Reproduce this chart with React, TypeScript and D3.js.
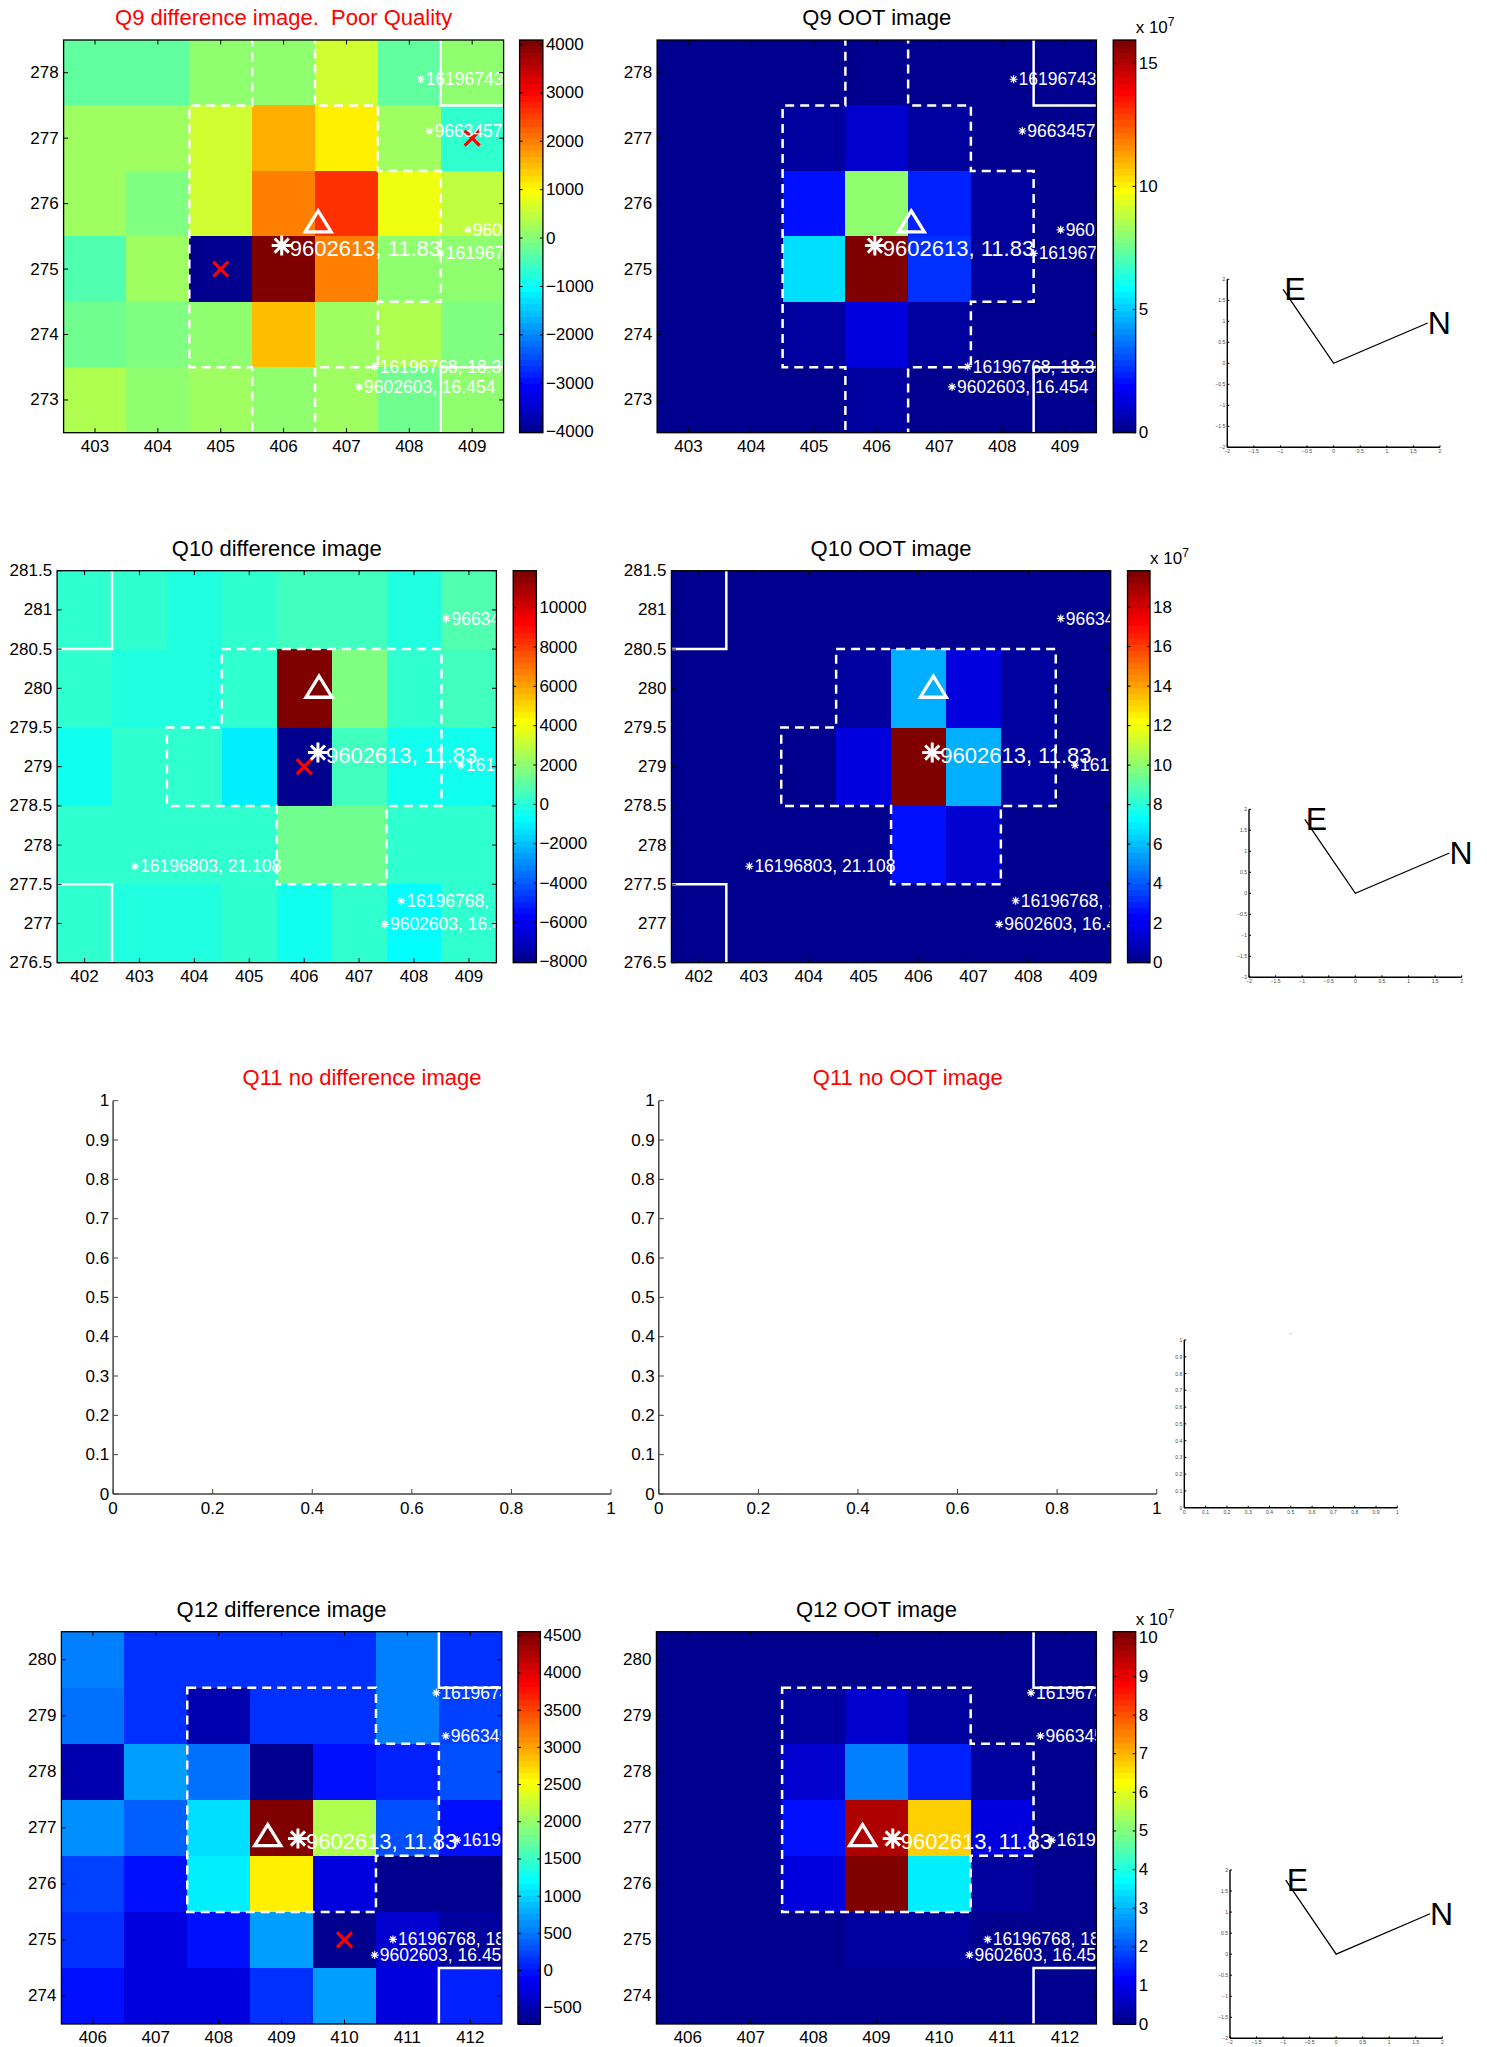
import React from 'react';
import * as d3 from 'd3';

type Pt = [number, number];
interface Lbl { x: number; y: number; text: string }

const FONT = '"Liberation Sans", Arial, Helvetica, sans-serif';

// ---------------- Q9 ----------------
const q9Cols = [403, 404, 405, 406, 407, 408, 409];
const q9Rows = [278, 277, 276, 275, 274, 273];
const q9DiffValues = [
  [-220, -230, 150, 120, 560, -260, 60],
  [270, 270, 600, 1556, 1090, 270, -614],
  [250, -87, 600, 1997, 2570, 846, 480],
  [-346, 260, -4020, 4090, 1990, 155, 35],
  [-210, 20, 140, 1454, 270, 400, 30],
  [330, 40, 200, 150, 190, -200, 130],
];
const q9OotValues = [
  [0.2e7, 0.2e7, 0.2e7, 0.2e7, 0.2e7, 0.2e7, 0.2e7],
  [0.2e7, 0.2e7, 0.35e7, 1.15e7, 0.4e7, 0.2e7, 0.2e7],
  [0.2e7, 0.2e7, 2.24e7, 8.02e7, 2.32e7, 0.35e7, 0.2e7],
  [0.2e7, 0.2e7, 5.3e7, 15.94e7, 2.57e7, 0.4e7, 0.2e7],
  [0.2e7, 0.2e7, 0.35e7, 1.32e7, 0.45e7, 0.2e7, 0.2e7],
  [0, 0.2e7, 0.2e7, 0.3e7, 0.2e7, 0.2e7, 0.2e7],
];
const q9XTicks = [403, 404, 405, 406, 407, 408, 409];
const q9YTicks = [273, 274, 275, 276, 277, 278];
const q9DiffCbarTicks = [-4000, -3000, -2000, -1000, 0, 1000, 2000, 3000, 4000];
const q9OotCbarTicks = [0, 5, 10, 15];
const q9Aperture: Pt[] = [[405.5, 279], [406.5, 279], [406.5, 277.5], [407.5, 277.5], [407.5, 276.5], [408.5, 276.5], [408.5, 274.5], [407.5, 274.5], [407.5, 273.5], [406.5, 273.5], [406.5, 272], [405.5, 272], [405.5, 273.5], [404.5, 273.5], [404.5, 277.5], [405.5, 277.5]];
const q9Edges: Pt[][] = [[[408.5, 279], [408.5, 277.5], [410, 277.5]], [[408.5, 272], [408.5, 273.5], [410, 273.5]]];
const q9Labels: Lbl[] = [
  { x: 408.18, y: 277.9, text: '16196743' },
  { x: 408.32, y: 277.11, text: '9663457' },
  { x: 408.93, y: 275.6, text: '9602' },
  { x: 408.5, y: 275.24, text: '1619677' },
  { x: 407.45, y: 273.51, text: '16196768, 18.35' },
  { x: 407.2, y: 273.2, text: '9602603, 16.454' },
];
const q9Star: Pt = [405.97, 275.36];
const q9Triangle: Pt = [406.55, 275.73];
const q9Crosses: Pt[] = [[405, 275], [409, 277]];

// ---------------- Q10 ----------------
const q10Cols = [402, 403, 404, 405, 406, 407, 408, 409];
const q10Rows = [281, 280, 279, 278, 277];
const q10DiffValues = [
  [320, 80, -170, 80, 460, 460, -170, 820],
  [320, -170, -170, 200, 11880, 1760, 200, 500],
  [-300, 80, 80, -1040, -8050, 520, -300, -400],
  [200, 320, 320, 320, 1450, 1600, 80, 200],
  [200, -120, -120, 200, -400, 320, -600, 320],
];
const q10OotValues = [
  [0, 0.2e7, 0.2e7, 0.2e7, 0.2e7, 0.2e7, 0.2e7, 0.2e7],
  [0.2e7, 0.2e7, 0.2e7, 0.4e7, 5.8e7, 1.8e7, 0.35e7, 0.2e7],
  [0.2e7, 0.2e7, 0.25e7, 1.8e7, 19.84e7, 5.6e7, 0.35e7, 0.2e7],
  [0.2e7, 0.2e7, 0.2e7, 0.3e7, 2.7e7, 1.45e7, 0.25e7, 0.2e7],
  [0.2e7, 0.2e7, 0.2e7, 0.2e7, 0.25e7, 0.2e7, 0.2e7, 0.2e7],
];
const q10XTicks = [402, 403, 404, 405, 406, 407, 408, 409];
const q10YTicks = [276.5, 277, 277.5, 278, 278.5, 279, 279.5, 280, 280.5, 281, 281.5];
const q10DiffCbarTicks = [-8000, -6000, -4000, -2000, 0, 2000, 4000, 6000, 8000, 10000];
const q10OotCbarTicks = [0, 2, 4, 6, 8, 10, 12, 14, 16, 18];
const q10Aperture: Pt[] = [[404.5, 280.5], [408.5, 280.5], [408.5, 278.5], [407.5, 278.5], [407.5, 277.5], [405.5, 277.5], [405.5, 278.5], [403.5, 278.5], [403.5, 279.5], [404.5, 279.5]];
const q10Edges: Pt[][] = [[[402.5, 282], [402.5, 280.5], [401, 280.5]], [[401, 277.5], [402.5, 277.5], [402.5, 276]]];
const q10Labels: Lbl[] = [
  { x: 408.59, y: 280.89, text: '966345' },
  { x: 408.85, y: 279.02, text: '16196' },
  { x: 402.92, y: 277.73, text: '16196803, 21.108' },
  { x: 407.77, y: 277.29, text: '16196768, 1' },
  { x: 407.47, y: 276.99, text: '9602603, 16.4' },
];
const q10Star: Pt = [406.25, 279.18];
const q10Triangle: Pt = [406.27, 280.02];
const q10Crosses: Pt[] = [[406, 279]];

// ---------------- Q11 ----------------
const q11XTicks = [0, 0.2, 0.4, 0.6, 0.8, 1];
const q11YTicks = [0, 0.1, 0.2, 0.3, 0.4, 0.5, 0.6, 0.7, 0.8, 0.9, 1];
const q11SmallTicks = [0, 0.1, 0.2, 0.3, 0.4, 0.5, 0.6, 0.7, 0.8, 0.9, 1];

// ---------------- Q12 ----------------
const q12Cols = [406, 407, 408, 409, 410, 411, 412];
const q12Rows = [280, 279, 278, 277, 276, 275, 274];
const q12DiffValues = [
  [520, 147, 150, 150, 150, 560, 130],
  [480, 147, -480, 150, 150, 600, 230],
  [-513, 720, 440, -690, -17, 63, 312],
  [680, 396, 1052, 4555, 2124, 312, -17],
  [230, -40, 1135, 2620, -265, -660, -660],
  [147, -265, -17, 722, -718, -348, -595],
  [-40, -300, -300, 147, 722, -265, 63],
];
const q12OotValues = [
  [0, 0.12e7, 0.12e7, 0.12e7, 0.12e7, 0.12e7, 0.12e7],
  [0.12e7, 0.12e7, 0.25e7, 0.76e7, 0.25e7, 0.12e7, 0.12e7],
  [0.12e7, 0.12e7, 0.7e7, 2.53e7, 1.44e7, 0.25e7, 0.12e7],
  [0.12e7, 0.12e7, 1.28e7, 9.6e7, 6.78e7, 0.8e7, 0.12e7],
  [0.12e7, 0.12e7, 0.8e7, 10.16e7, 3.64e7, 0.2e7, 0.12e7],
  [0.12e7, 0.12e7, 0.12e7, 0.25e7, 0.25e7, 0.12e7, 0.12e7],
  [0.12e7, 0.12e7, 0.12e7, 0.12e7, 0.12e7, 0.12e7, 0.12e7],
];
const q12XTicks = [406, 407, 408, 409, 410, 411, 412];
const q12YTicks = [274, 275, 276, 277, 278, 279, 280];
const q12DiffCbarTicks = [-500, 0, 500, 1000, 1500, 2000, 2500, 3000, 3500, 4000, 4500];
const q12OotCbarTicks = [0, 1, 2, 3, 4, 5, 6, 7, 8, 9, 10];
const q12Aperture: Pt[] = [[407.5, 279.5], [410.5, 279.5], [410.5, 278.5], [411.5, 278.5], [411.5, 276.5], [410.5, 276.5], [410.5, 275.5], [407.5, 275.5]];
const q12Edges: Pt[][] = [[[411.5, 281], [411.5, 279.5], [413, 279.5]], [[413, 274.5], [411.5, 274.5], [411.5, 273]]];
const q12Labels: Lbl[] = [
  { x: 411.46, y: 279.41, text: '1619674' },
  { x: 411.61, y: 278.64, text: '966345' },
  { x: 411.79, y: 276.78, text: '16196' },
  { x: 410.77, y: 275.01, text: '16196768, 18' },
  { x: 410.48, y: 274.73, text: '9602603, 16.454' },
];
const q12Star: Pt = [409.26, 276.81];
const q12Triangle: Pt = [408.78, 276.87];
const q12Crosses: Pt[] = [[410, 275]];

const starLabel = '9602613, 11.83';

// ---------------- compass ----------------
const compassTicks = [-2, -1.5, -1, -0.5, 0, 0.5, 1, 1.5, 2];
const compassN: Pt = [1.77, 0.96];
const compassE: Pt = [-0.95, 1.76];

// MATLAB jet(64)
const jetU = (k: number) => (k >= 1 && k <= 16 ? k / 16 : k >= 17 && k <= 31 ? 1 : k >= 32 && k <= 47 ? (48 - k) / 16 : 0);
const JET: string[] = d3.range(1, 65).map((i) => d3.rgb(jetU(i - 24) * 255, jetU(i - 8) * 255, jetU(i + 8) * 255).formatHex());

const fmtNum = (v: number) => (v < 0 ? '\u2212' + String(Math.abs(v)) : String(v));

interface Box { l: number; r: number; t: number; b: number }
interface PanelCfg {
  id: string; title: string; titleColor: string; box: Box; cbar: { l: number; r: number };
  cols: number[]; rows: number[]; values: number[][]; xTicks: number[]; yTicks: number[];
  cbarTicks: number[]; cbarExp: number; aperture: Pt[]; edges: Pt[][]; labels: Lbl[];
  star: Pt; triangle: Pt; crosses: Pt[];
}

function asterisk(cx: number, cy: number, r: number) {
  const d = r * 0.707;
  return `M${cx - r},${cy}H${cx + r}M${cx},${cy - r}V${cy + r}M${cx - d},${cy - d}L${cx + d},${cy + d}M${cx - d},${cy + d}L${cx + d},${cy - d}`;
}

function HeatPanel({ p }: { p: PanelCfg }) {
  const { box } = p;
  const xs = d3.scaleLinear().domain([d3.min(p.cols)! - 0.5, d3.max(p.cols)! + 0.5]).range([box.l, box.r]);
  const ys = d3.scaleLinear().domain([d3.min(p.rows)! - 0.5, d3.max(p.rows)! + 0.5]).range([box.b, box.t]);
  const [vmin, vmax] = d3.extent(p.values.flat()) as [number, number];
  const color = d3.scaleQuantize<string>().domain([vmin, vmax]).range(JET);
  const cs = d3.scaleLinear().domain([vmin, vmax]).range([box.b, box.t]);
  const line = d3.line<Pt>().x((d) => xs(d[0])).y((d) => ys(d[1]));
  const mult = Math.pow(10, p.cbarExp);
  const step = (vmax - vmin) / 64;
  const tl = 4.5;
  const clipId = `clip-${p.id}`;
  const [sx, sy] = [xs(p.star[0]), ys(p.star[1])];
  const [tx, ty] = [xs(p.triangle[0]), ys(p.triangle[1])];
  return (
    <g>
      <defs>
        <clipPath id={clipId}>
          <rect x={box.l} y={box.t} width={box.r - box.l} height={box.b - box.t} />
        </clipPath>
      </defs>
      <g clipPath={`url(#${clipId})`}>
        <g shapeRendering="crispEdges">
          {p.rows.map((row, ri) =>
            p.cols.map((col, ci) => (
              <rect key={`${ri}-${ci}`} x={xs(col - 0.5)} y={ys(row + 0.5)} width={xs(col + 0.5) - xs(col - 0.5) + 0.6}
                height={ys(row - 0.5) - ys(row + 0.5) + 0.6} fill={color(p.values[ri][ci])} />
            ))
          )}
        </g>
        <path d={line(p.aperture)! + 'Z'} fill="none" stroke="#fff" strokeWidth={2.5} strokeDasharray="9 6" />
        {p.edges.map((e, i) => (
          <path key={i} d={line(e)!} fill="none" stroke="#fff" strokeWidth={2.5} />
        ))}
        {p.crosses.map((c, i) => {
          const cx = xs(c[0]), cy = ys(c[1]), r = 7.5;
          return <path key={i} d={`M${cx - r},${cy - r}L${cx + r},${cy + r}M${cx - r},${cy + r}L${cx + r},${cy - r}`} stroke="#ff0000" strokeWidth={3.2} />;
        })}
        <path d={`M${tx},${ty - 10.5}L${tx + 13},${ty + 10.5}L${tx - 13},${ty + 10.5}Z`} fill="none" stroke="#fff" strokeWidth={3.3} />
        {p.labels.map((l, i) => {
          const lx = xs(l.x), ly = ys(l.y);
          return (
            <g key={i}>
              <path d={asterisk(lx, ly, 4)} stroke="#fff" strokeWidth={1.2} />
              <text x={lx + 5} y={ly} dominantBaseline="central" fill="#fff" fontSize={17.5} fontFamily={FONT}>{l.text}</text>
            </g>
          );
        })}
        <path d={asterisk(sx, sy, 10)} stroke="#fff" strokeWidth={3} />
        <text x={sx + 8} y={sy + 3} dominantBaseline="central" fill="#fff" fontSize={22} fontFamily={FONT}>{starLabel}</text>
      </g>
      <rect x={box.l} y={box.t} width={box.r - box.l} height={box.b - box.t} fill="none" stroke="#000" strokeWidth={1.3} />
      {p.xTicks.map((t) => (
        <g key={'x' + t}>
          <line x1={xs(t)} x2={xs(t)} y1={box.b} y2={box.b - tl} stroke="#000" strokeWidth={1} />
          <line x1={xs(t)} x2={xs(t)} y1={box.t} y2={box.t + tl} stroke="#000" strokeWidth={1} />
          <text x={xs(t)} y={box.b + 19} textAnchor="middle" fontSize={17} fontFamily={FONT}>{String(t)}</text>
        </g>
      ))}
      {p.yTicks.map((t) => (
        <g key={'y' + t}>
          <line x1={box.l} x2={box.l + tl} y1={ys(t)} y2={ys(t)} stroke="#000" strokeWidth={1} />
          <line x1={box.r} x2={box.r - tl} y1={ys(t)} y2={ys(t)} stroke="#000" strokeWidth={1} />
          <text x={box.l - 5} y={ys(t)} textAnchor="end" dominantBaseline="central" fontSize={17} fontFamily={FONT}>{String(t)}</text>
        </g>
      ))}
      <text x={(box.l + box.r) / 2} y={box.t - 15} textAnchor="middle" fontSize={22} fontFamily={FONT}
        fill={p.titleColor} style={{ whiteSpace: 'pre' }}>{p.title}</text>
      {/* colorbar */}
      <g shapeRendering="crispEdges">
        {JET.map((c, i) => (
          <rect key={'c' + i} x={p.cbar.l} y={cs(vmin + (i + 1) * step)} width={p.cbar.r - p.cbar.l}
            height={cs(vmin + i * step) - cs(vmin + (i + 1) * step) + 0.6} fill={c} />
        ))}
      </g>
      <rect x={p.cbar.l} y={box.t} width={p.cbar.r - p.cbar.l} height={box.b - box.t} fill="none" stroke="#000" strokeWidth={1.3} />
      {p.cbarTicks.map((t) => {
        const y = cs(t * mult);
        return (
          <g key={'ct' + t}>
            <line x1={p.cbar.l} x2={p.cbar.l + 3} y1={y} y2={y} stroke="#000" strokeWidth={1} />
            <line x1={p.cbar.r} x2={p.cbar.r - 3} y1={y} y2={y} stroke="#000" strokeWidth={1} />
            <text x={p.cbar.r + 3} y={y} dominantBaseline="central" fontSize={17} fontFamily={FONT}>{fmtNum(t)}</text>
          </g>
        );
      })}
      {p.cbarExp > 0 && (
        <text x={p.cbar.r} y={box.t - 7} fontSize={17} fontFamily={FONT}>
          x 10<tspan dy={-7} fontSize={12}>{String(p.cbarExp)}</tspan>
        </text>
      )}
    </g>
  );
}

interface PlainCfg {
  box: Box; xDomain: [number, number]; yDomain: [number, number]; xTicks: number[]; yTicks: number[];
  fontSize: number; tickLen: number; stroke: string; strokeWidth: number; labelColor: string;
  xLabelOffset: number; yLabelGap: number;
}

function PlainAxes({ c }: { c: PlainCfg }) {
  const xs = d3.scaleLinear().domain(c.xDomain).range([c.box.l, c.box.r]);
  const ys = d3.scaleLinear().domain(c.yDomain).range([c.box.b, c.box.t]);
  const f = d3.format('~g');
  const lab = (v: number) => (v < 0 ? '\u2212' + f(Math.abs(v)) : f(v));
  return (
    <g>
      <line x1={c.box.l} x2={c.box.r} y1={c.box.b} y2={c.box.b} stroke={c.stroke} strokeWidth={c.strokeWidth} />
      <line x1={c.box.l} x2={c.box.l} y1={c.box.t} y2={c.box.b} stroke={c.stroke} strokeWidth={c.strokeWidth} />
      {c.xTicks.map((t) => (
        <g key={'x' + t}>
          <line x1={xs(t)} x2={xs(t)} y1={c.box.b} y2={c.box.b - c.tickLen} stroke={c.stroke} strokeWidth={1} />
          <text x={xs(t)} y={c.box.b + c.xLabelOffset} textAnchor="middle" fontSize={c.fontSize} fill={c.labelColor} fontFamily={FONT}>{lab(t)}</text>
        </g>
      ))}
      {c.yTicks.map((t) => (
        <g key={'y' + t}>
          <line x1={c.box.l} x2={c.box.l + c.tickLen} y1={ys(t)} y2={ys(t)} stroke={c.stroke} strokeWidth={1} />
          <text x={c.box.l - c.yLabelGap} y={ys(t)} textAnchor="end" dominantBaseline="central" fontSize={c.fontSize} fill={c.labelColor} fontFamily={FONT}>{lab(t)}</text>
        </g>
      ))}
    </g>
  );
}

function Compass({ box }: { box: Box }) {
  const xs = d3.scaleLinear().domain([-2, 2]).range([box.l, box.r]);
  const ys = d3.scaleLinear().domain([-2, 2]).range([box.b, box.t]);
  const line = d3.line<Pt>().x((d) => xs(d[0])).y((d) => ys(d[1]));
  const cfg: PlainCfg = {
    box, xDomain: [-2, 2], yDomain: [-2, 2], xTicks: compassTicks, yTicks: compassTicks,
    fontSize: 5, tickLen: 2, stroke: '#000', strokeWidth: 1.4, labelColor: '#444', xLabelOffset: 6, yLabelGap: 2,
  };
  return (
    <g>
      <PlainAxes c={cfg} />
      <path d={line([compassE, [0, 0], compassN])!} fill="none" stroke="#000" strokeWidth={1.3} />
      <text x={xs(compassE[0]) + 1} y={ys(compassE[1])} dominantBaseline="central" fontSize={32} fontFamily={FONT}>E</text>
      <text x={xs(compassN[0])} y={ys(compassN[1])} dominantBaseline="central" fontSize={32} fontFamily={FONT}>N</text>
    </g>
  );
}

const panels: PanelCfg[] = [
  {
    id: 'q9d', title: 'Q9 difference image.  Poor Quality', titleColor: '#ff0000',
    box: { l: 63.6, r: 503.6, t: 40, b: 432.7 }, cbar: { l: 519.6, r: 542.9 },
    cols: q9Cols, rows: q9Rows, values: q9DiffValues, xTicks: q9XTicks, yTicks: q9YTicks,
    cbarTicks: q9DiffCbarTicks, cbarExp: 0, aperture: q9Aperture, edges: q9Edges, labels: q9Labels,
    star: q9Star, triangle: q9Triangle, crosses: q9Crosses,
  },
  {
    id: 'q9o', title: 'Q9 OOT image', titleColor: '#000',
    box: { l: 657.1, r: 1096.4, t: 40, b: 432.7 }, cbar: { l: 1113.2, r: 1135.7 },
    cols: q9Cols, rows: q9Rows, values: q9OotValues, xTicks: q9XTicks, yTicks: q9YTicks,
    cbarTicks: q9OotCbarTicks, cbarExp: 7, aperture: q9Aperture, edges: q9Edges, labels: q9Labels,
    star: q9Star, triangle: q9Triangle, crosses: [],
  },
  {
    id: 'q10d', title: 'Q10 difference image', titleColor: '#000',
    box: { l: 57.1, r: 496.4, t: 570.7, b: 962.7 }, cbar: { l: 513.2, r: 536.4 },
    cols: q10Cols, rows: q10Rows, values: q10DiffValues, xTicks: q10XTicks, yTicks: q10YTicks,
    cbarTicks: q10DiffCbarTicks, cbarExp: 0, aperture: q10Aperture, edges: q10Edges, labels: q10Labels,
    star: q10Star, triangle: q10Triangle, crosses: q10Crosses,
  },
  {
    id: 'q10o', title: 'Q10 OOT image', titleColor: '#000',
    box: { l: 671.4, r: 1110.7, t: 570.7, b: 962.7 }, cbar: { l: 1127.5, r: 1150 },
    cols: q10Cols, rows: q10Rows, values: q10OotValues, xTicks: q10XTicks, yTicks: q10YTicks,
    cbarTicks: q10OotCbarTicks, cbarExp: 7, aperture: q10Aperture, edges: q10Edges, labels: q10Labels,
    star: q10Star, triangle: q10Triangle, crosses: [],
  },
  {
    id: 'q12d', title: 'Q12 difference image', titleColor: '#000',
    box: { l: 61.4, r: 501.8, t: 1631.7, b: 2024 }, cbar: { l: 517.9, r: 540.4 },
    cols: q12Cols, rows: q12Rows, values: q12DiffValues, xTicks: q12XTicks, yTicks: q12YTicks,
    cbarTicks: q12DiffCbarTicks, cbarExp: 0, aperture: q12Aperture, edges: q12Edges, labels: q12Labels,
    star: q12Star, triangle: q12Triangle, crosses: q12Crosses,
  },
  {
    id: 'q12o', title: 'Q12 OOT image', titleColor: '#000',
    box: { l: 656.4, r: 1096.4, t: 1631.7, b: 2024 }, cbar: { l: 1113.2, r: 1135.7 },
    cols: q12Cols, rows: q12Rows, values: q12OotValues, xTicks: q12XTicks, yTicks: q12YTicks,
    cbarTicks: q12OotCbarTicks, cbarExp: 7, aperture: q12Aperture, edges: q12Edges, labels: q12Labels,
    star: q12Star, triangle: q12Triangle, crosses: [],
  },
];

const q11Boxes: { box: Box; title: string }[] = [
  { box: { l: 113.1, r: 611, t: 1100.7, b: 1494 }, title: 'Q11 no difference image' },
  { box: { l: 658.8, r: 1156.7, t: 1100.7, b: 1494 }, title: 'Q11 no OOT image' },
];

export default function App() {
  const smallBox: Box = { l: 1184.3, r: 1397.3, t: 1340, b: 1507.7 };
  return (
    <svg width={1487} height={2047} style={{ position: 'absolute', left: 0, top: 0, background: '#fff' }}
      xmlns="http://www.w3.org/2000/svg">
      <rect x={0} y={0} width={1487} height={2047} fill="#fff" />
      {panels.map((p) => (
        <HeatPanel key={p.id} p={p} />
      ))}
      {q11Boxes.map((q, i) => (
        <g key={i}>
          <PlainAxes c={{
            box: q.box, xDomain: [0, 1], yDomain: [0, 1], xTicks: q11XTicks, yTicks: q11YTicks,
            fontSize: 17, tickLen: 5, stroke: '#444', strokeWidth: 1.5, labelColor: '#000', xLabelOffset: 20, yLabelGap: 4,
          }} />
          <text x={(q.box.l + q.box.r) / 2} y={q.box.t - 15.5} textAnchor="middle" fontSize={22} fill="#ff0000" fontFamily={FONT}>{q.title}</text>
        </g>
      ))}
      <PlainAxes c={{
        box: smallBox, xDomain: [0, 1], yDomain: [0, 1], xTicks: q11SmallTicks, yTicks: q11SmallTicks,
        fontSize: 5, tickLen: 2, stroke: '#000', strokeWidth: 1.4, labelColor: '#444', xLabelOffset: 6, yLabelGap: 2,
      }} />
      <text x={(smallBox.l + smallBox.r) / 2} y={smallBox.t - 5} textAnchor="middle" fontSize={6} fill="#666" fontFamily={FONT}>-</text>
      <Compass box={{ l: 1227.3, r: 1440, t: 279.3, b: 447.3 }} />
      <Compass box={{ l: 1249, r: 1461.7, t: 809.3, b: 977.3 }} />
      <Compass box={{ l: 1230, r: 1442.3, t: 1870, b: 2038.3 }} />
    </svg>
  );
}
